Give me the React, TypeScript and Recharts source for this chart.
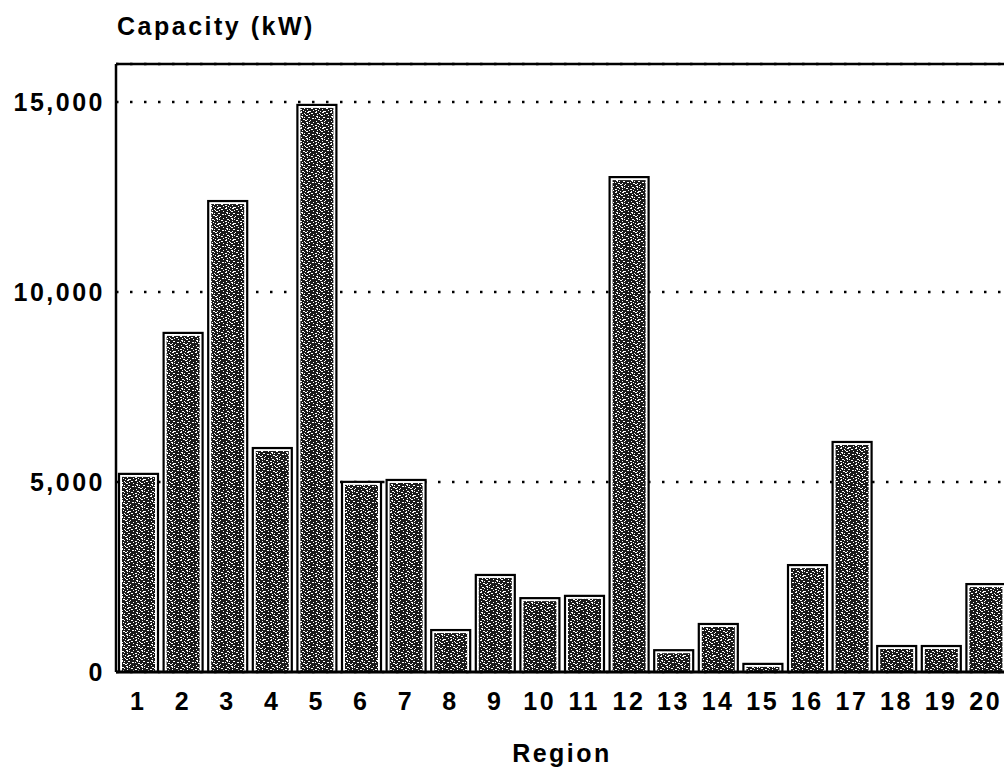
import { BarChart, Bar, XAxis, YAxis, CartesianGrid, ReferenceLine } from 'recharts';

// Installed capacity per region (kW).
const regions = ['1', '2', '3', '4', '5', '6', '7', '8', '9', '10', '11', '12', '13', '14', '15', '16', '17', '18', '19', '20'];
const capacity = [5240, 8950, 12420, 5920, 14950, 5030, 5080, 1130, 2580, 1970, 2030, 13050, 600, 1290, 240, 2840, 6080, 710, 710, 2340];
const yTicks = [0, 5000, 10000, 15000];
const yMax = 16000;

const rows = regions.map((r, i) => ({ region: r, capacity: capacity[i] }));

// speckle spots for the scanned "stipple" fill (texture only, not data)
const speckles: [number, number, number][] = [
  [0, 0, 2], [4, 1, 1], [7, 0, 2], [2, 2, 1], [6, 3, 2], [9, 2, 1], [1, 4, 2], [4, 5, 1],
  [8, 5, 2], [0, 6, 1], [3, 7, 2], [7, 7, 1], [5, 8, 2], [9, 9, 1], [1, 9, 1], [6, 10, 2],
  [2, 11, 2], [9, 11, 1], [4, 12, 1], [0, 13, 2], [7, 13, 1], [3, 14, 1], [8, 15, 2], [5, 15, 1],
  [11, 1, 2], [13, 3, 1], [12, 6, 2], [10, 8, 1], [13, 10, 1], [11, 12, 2], [13, 14, 1], [10, 15, 1],
  [2, 5, 1], [5, 2, 1], [7, 11, 1], [1, 15, 1],
];

const font = { fill: '#000', fontSize: 25, fontFamily: 'Liberation Sans, Arial, sans-serif', fontWeight: 'bold', letterSpacing: 2.5 };

function StippleBar(props: any) {
  const { x, y, width, height } = props;
  if (height == null || height <= 0) return null;
  return (
    <g>
      <rect x={x + 1} y={y + 1} width={width - 2} height={height - 1} fill="#fff" stroke="#000" strokeWidth={2.2} />
      {height > 6 && <rect x={x + 4} y={y + 4} width={width - 8} height={height - 5} fill="url(#stipple)" />}
    </g>
  );
}

export default function App() {
  return (
    <div style={{ position: 'absolute', left: 0, top: 0, width: 1004, height: 769, overflow: 'hidden', background: '#fff' }}>
      <div style={{ position: 'absolute', left: 117, top: 14, lineHeight: '25px', ...font, color: '#000', whiteSpace: 'pre' }}>
        {'Capacity (kW)'}
      </div>
      <BarChart width={1012} height={769} data={rows} margin={{ top: 64, right: 4, left: 0, bottom: 0 }}>
        <defs>
          <pattern id="stipple" patternUnits="userSpaceOnUse" width={15} height={16}>
            <rect width={15} height={16} fill="#1a1a1a" />
            {speckles.map(([sx, sy, w], i) => (
              <rect key={i} x={sx} y={sy} width={w} height={1} fill="#fff" />
            ))}
          </pattern>
        </defs>
        <CartesianGrid vertical={false} stroke="#000" strokeWidth={2.5} strokeDasharray="2.5 11.5" />
        <ReferenceLine y={yMax} stroke="#000" strokeWidth={2.5} />
        <XAxis
          dataKey="region"
          height={97}
          tickLine={false}
          tickSize={0}
          tickMargin={20}
          interval={0}
          axisLine={{ stroke: '#000', strokeWidth: 3 }}
          tick={font}
          label={{ value: 'Region', position: 'insideBottom', offset: 7, ...font }}
        />
        <YAxis
          width={116}
          domain={[0, yMax]}
          ticks={yTicks}
          tickFormatter={(v: number) => v.toLocaleString('en-US')}
          tickLine={false}
          tickSize={0}
          tickMargin={11}
          axisLine={{ stroke: '#000', strokeWidth: 2.5 }}
          tick={font}
        />
        <Bar dataKey="capacity" barSize={41} shape={StippleBar} isAnimationActive={false} />
      </BarChart>
    </div>
  );
}
